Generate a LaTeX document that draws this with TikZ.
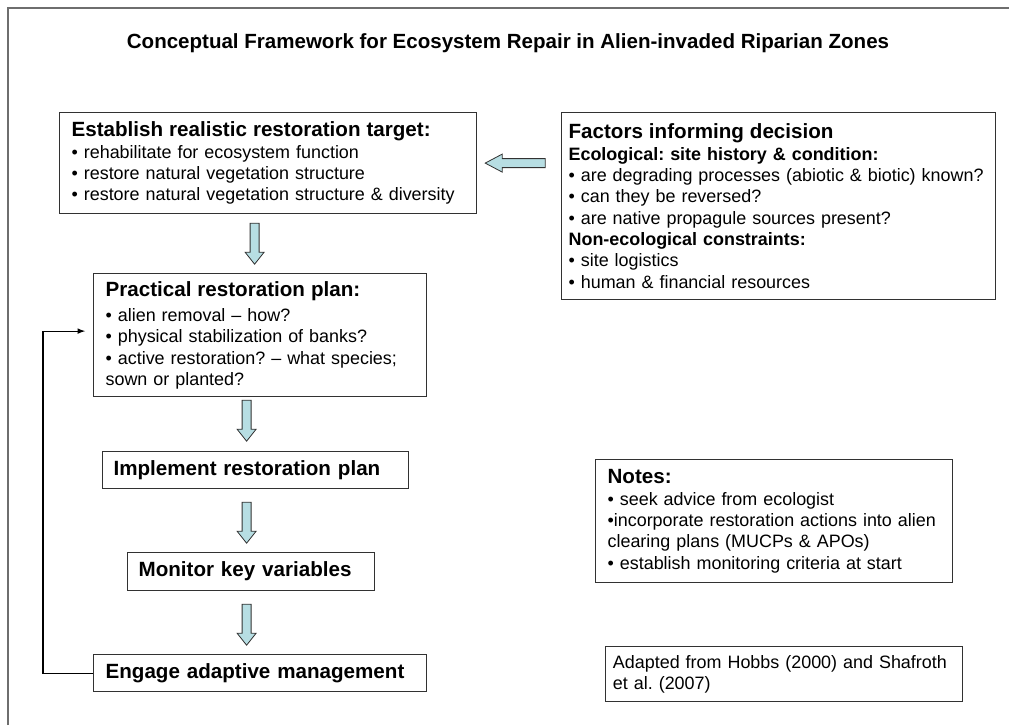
\documentclass[tikz,border=0pt]{standalone}
\usepackage{fontspec}
\setmainfont{Liberation Sans}
\usetikzlibrary{arrows,positioning,calc}
\definecolor{arrowcyan}{RGB}{183,222,227}
\definecolor{boxline}{RGB}{50,50,50}
\definecolor{framegray}{RGB}{110,110,110}
\newcommand{\bodyfont}{\fontsize{13.45}{16}\selectfont}
\newcommand{\headfont}{\fontsize{15.45}{16}\selectfont\bfseries}
\frenchspacing

\begin{document}
\begin{tikzpicture}[
    x=0.75pt, y=-0.75pt,
    box/.style={rectangle, draw=boxline, line width=0.9pt, anchor=north west, align=left, inner xsep=9pt, inner ysep=0pt, font=\bodyfont},
    headbox/.style={box, font=\headfont},
    arrow/.style={->, >=latex, line width=0.9pt},
    downblock/.pic={\draw[fill=arrowcyan, draw=boxline, line width=0.6pt] (-4.5,0) -- (-4.5,29) -- (-9.5,29) -- (0,41) -- (9.5,29) -- (4.5,29) -- (4.5,0) -- cycle;},
    leftblock/.pic={\draw[fill=arrowcyan, draw=boxline, line width=0.6pt] (0,0) -- (17,-9) -- (17,-4.5) -- (60,-4.5) -- (60,4.5) -- (17,4.5) -- (17,9) -- cycle;}
]
    \useasboundingbox (0,0) rectangle (1009,725);
    \draw[framegray, line width=1.4pt] (8,725) -- (8,8) -- (1009,8);

    \node[font=\fontsize{15.4}{18}\selectfont\bfseries] (title) at (508,43) {Conceptual Framework for Ecosystem Repair in Alien-invaded Riparian Zones};

    % left column
    \node[box, text width=294.75pt, minimum height=75.75pt] (est) at (59,112) {{\headfont Establish realistic restoration target:}\\
        • rehabilitate for ecosystem function\\
        • restore natural vegetation structure\\
        • restore natural vegetation structure \& diversity};
    \node[box, text width=231.75pt, minimum height=92.25pt] (prac) at (93,273) {{\headfont Practical restoration plan:}\\[3pt]
        • alien removal – how?\\
        • physical stabilization of banks?\\
        • active restoration? – what species;\\
        sown or planted?};
    \node[headbox, inner xsep=8.25pt, text width=213pt, minimum height=27.75pt] (impl) at (102,451) {Implement restoration plan};
    \node[headbox, inner xsep=8.25pt, text width=168.75pt, minimum height=28.5pt] (mon) at (127,552) {Monitor key variables};
    \node[headbox, text width=231.75pt, minimum height=27.75pt] (eng) at (93,654) {Engage adaptive management};

    % right column
    \node[box, inner xsep=5.25pt, text width=315pt, minimum height=140.25pt] (fac) at (561,112) {{\headfont Factors informing decision}\\
        \textbf{Ecological: site history \& condition:}\\
        • are degrading processes (abiotic \& biotic) known?\\
        • can they be reversed?\\
        • are native propagule sources present?\\
        \textbf{Non-ecological constraints:}\\
        • site logistics\\
        • human \& financial resources};
    \node[box, text width=249.75pt, minimum height=92.25pt] (notes) at (595,459) {{\headfont Notes:}\\
        • seek advice from ecologist\\
        •incorporate restoration actions into alien\\
        clearing plans (MUCPs \& APOs)\\
        • establish monitoring criteria at start};
    \node[box, inner xsep=5.5pt, text width=256.75pt, minimum height=41.25pt] (adapt) at (605,646) {Adapted from Hobbs (2000) and Shafroth\\
        et al. (2007)};

    % block arrows
    \pic at ($(est.east)+(8,0)$) {leftblock};
    \pic at ($(est.south)+(-13.5,9)$) {downblock};
    \pic at ($(prac.south)+(-13.5,3)$) {downblock};
    \pic at ($(impl.south)+(-9,13)$) {downblock};
    \pic at ($(mon.south)+(-4.5,13)$) {downblock};

    % feedback loop
    \draw[arrow] (eng.west) -- ++(-50,0) |- ([xshift=-6pt,yshift=3pt]prac.west);
\end{tikzpicture}
\end{document}
